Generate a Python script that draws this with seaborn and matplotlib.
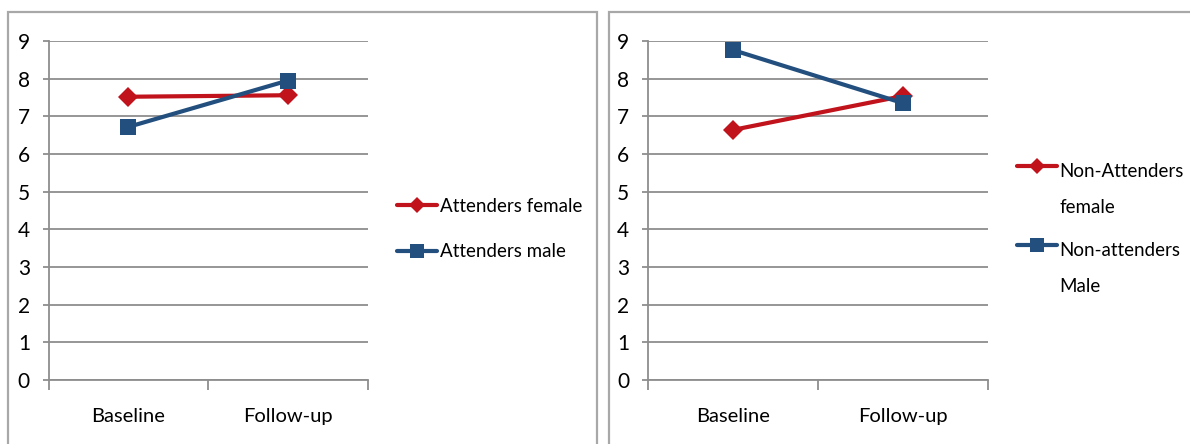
import matplotlib
matplotlib.use("Agg")
import matplotlib.pyplot as plt
from matplotlib.patches import Rectangle
from matplotlib.legend_handler import HandlerLine2D
from matplotlib.transforms import Affine2D
import seaborn as sns
import pandas as pd

# Mean scores at each time point
categories = ["Baseline", "Follow-up"]
attenders_female = [7.52, 7.56]
attenders_male = [6.72, 7.95]
non_attenders_female = [6.64, 7.54]
non_attenders_male = [8.76, 7.35]

left_labels = ["Attenders female", "Attenders male"]
right_labels = ["Non-Attenders\nfemale", "Non-attenders\nMale"]
y_ticks = list(range(0, 10))

RED = "#C0131C"
BLUE = "#234F7F"
GRID = "#8E8E8E"
FRAME = "#A8A8A8"
FS = 14
LEG_FS = 13.5

sns.set_style("white")
plt.rcParams["font.family"] = ["Lato", "DejaVu Sans"]
plt.rcParams["font.size"] = FS
plt.rcParams["text.color"] = "black"
plt.rcParams["xtick.labelcolor"] = "black"
plt.rcParams["ytick.labelcolor"] = "black"


def long_table(series, labels):
    rows = []
    for vals, lab in zip(series, labels):
        for i, v in enumerate(vals):
            rows.append({"pos": i, "score": v, "group": lab})
    return pd.DataFrame(rows)


class TopAlignedHandler(HandlerLine2D):
    """Line handle lifted so it sits beside the first line of a label."""

    def __init__(self, dy=0.0, **kw):
        super().__init__(**kw)
        self.dy = dy

    def create_artists(self, legend, orig_handle, xdescent, ydescent,
                       width, height, fontsize, trans):
        arts = super().create_artists(legend, orig_handle, xdescent, ydescent,
                                      width, height, fontsize, trans)
        shift = Affine2D().translate(0, self.dy) + trans
        for a in arts:
            a.set_transform(shift)
        return arts


def draw_panel(ax, df, labels, legend_anchor, multiline):
    palette = {labels[0]: RED, labels[1]: BLUE}
    markers = {labels[0]: "D", labels[1]: "s"}
    sns.lineplot(data=df, x="pos", y="score", hue="group", style="group",
                 palette=palette, markers=markers, dashes=False,
                 hue_order=labels, style_order=labels,
                 linewidth=3.0, markersize=10, markeredgewidth=0,
                 ax=ax, legend=False)
    for ln in ax.get_lines():
        if ln.get_marker() == "s":
            ln.set_markersize(11.5)

    ax.set_xlim(-0.5, 1.5)
    ax.set_ylim(0, 9)
    ax.set_yticks(y_ticks)
    ax.set_xticks([0, 1])
    ax.set_xticklabels(categories)
    ax.set_xticks([-0.5, 0.5, 1.5], minor=True)
    ax.set_xlabel("")
    ax.set_ylabel("")
    ax.grid(axis="y", color=GRID, linewidth=1.3)
    ax.set_axisbelow(True)
    for side in ["top", "right"]:
        ax.spines[side].set_visible(False)
    for side in ["left", "bottom"]:
        ax.spines[side].set_color(GRID)
        ax.spines[side].set_linewidth(1.3)
    ax.tick_params(axis="y", which="major", direction="out", length=4.5,
                   width=1.3, color=GRID, pad=9, left=True, labelsize=FS + 1)
    ax.tick_params(axis="x", which="major", length=0, pad=20, labelsize=FS + 0.5)
    ax.tick_params(axis="x", which="minor", direction="out", length=7,
                   width=1.3, color=GRID, bottom=True)

    handles = ax.get_lines()[:2]
    for h in handles:
        h.set_markersize(h.get_markersize() * 0.85)
    hmap = {}
    if multiline:
        hmap = {h: TopAlignedHandler(dy=17.0) for h in handles}
    leg = ax.legend(handles, labels, loc="center left",
                    bbox_to_anchor=legend_anchor, frameon=False,
                    fontsize=LEG_FS, handlelength=2.15, handletextpad=0.12,
                    labelspacing=1.5 if not multiline else 1.35,
                    borderaxespad=0, borderpad=0, handler_map=hmap)
    if multiline:
        for t in leg.get_texts():
            t.set_linespacing(2.4)
    for h in handles:
        h.set_markersize(h.get_markersize() / 0.85)
    return leg


fig = plt.figure(figsize=(11.9, 4.44), dpi=100)
W, H = 1190.0, 444.0

ax1 = fig.add_axes([48.7 / W, (H - 380) / H, (367.7 - 48.7) / W, (380 - 41) / H])
ax2 = fig.add_axes([648 / W, (H - 380) / H, (988 - 648) / W, (380 - 41) / H])

df_left = long_table([attenders_female, attenders_male], left_labels)
df_right = long_table([non_attenders_female, non_attenders_male], right_labels)

draw_panel(ax1, df_left, left_labels,
           ((397 - 48.7) / (367.7 - 48.7), (380 - 229) / (380 - 41)), False)
draw_panel(ax2, df_right, right_labels,
           ((1017 - 648) / (988 - 648), (380 - 229) / (380 - 41)), True)

# panel frames
for x0, x1 in [(8, 597), (609, 1200)]:
    fig.patches.append(Rectangle((x0 / W, -0.1), (x1 - x0) / W, (H - 12) / H + 0.1,
                                 transform=fig.transFigure, fill=False,
                                 edgecolor=FRAME, linewidth=1.6))

fig.savefig("out.png", dpi=100, facecolor="white")
